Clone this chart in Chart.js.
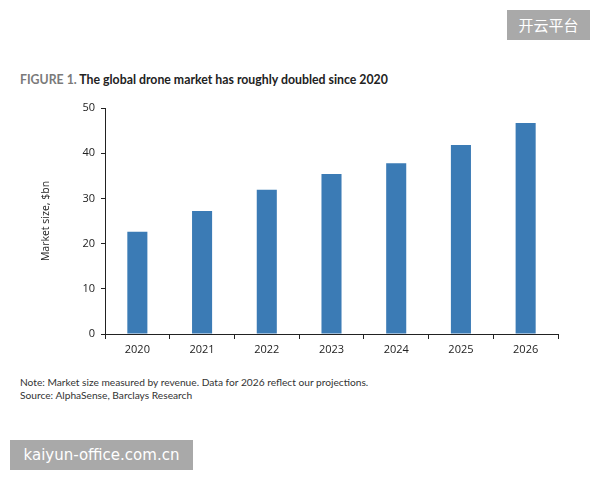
<!DOCTYPE html>
<html>
<head>
<meta charset="utf-8">
<script src="https://cdn.jsdelivr.net/npm/chart.js@4"></script>
<style>
    body { margin: 0; background: #fff; width: 600px; height: 480px; position: relative; overflow: hidden; font-family: "Lato", sans-serif; }
    .title { position: absolute; left: 20px; top: 72px; font-size: 12.3px; font-weight: bold; color: #222; }
    .title span { color: #7a7a7a; }
    .note { position: absolute; left: 20px; top: 376px; font-size: 10.2px; color: #333; line-height: 13px; }
    .chart-box { position: absolute; left: 20px; top: 95px; width: 560px; height: 270px; }
    .wm { position: absolute; background: #a9a9a9; color: #fff; font-family: "Noto Sans CJK SC", sans-serif; }
    .wm-top { left: 507px; top: 10px; width: 83px; height: 30px; font-size: 15px; line-height: 30px; text-align: center; }
    .wm-bottom { left: 10px; top: 440px; width: 183px; height: 30px; font-size: 15px; line-height: 30px; text-align: center; font-family: "DejaVu Sans", sans-serif; }
</style>
</head>
<body>
<div class="wm wm-top">开云平台</div>
<div class="title"><span>FIGURE 1.</span> The global drone market has roughly doubled since 2020</div>
<div class="chart-box"><canvas id="chart" width="560" height="270"></canvas></div>
<div class="note">Note: Market size measured by revenue. Data for 2026 reflect our projections.<br>Source: AlphaSense, Barclays Research</div>
<div class="wm wm-bottom">kaiyun-office.com.cn</div>

<script>
const years = ['2020', '2021', '2022', '2023', '2024', '2025', '2026'];
const marketSize = [22.6, 27.2, 31.9, 35.4, 37.8, 41.8, 46.7];
const yTicks = [0, 10, 20, 30, 40, 50];

const ctx = document.getElementById('chart').getContext('2d');

const chart = new Chart(ctx, {
    type: 'bar',
    data: {
        labels: years,
        datasets: [{
            data: marketSize,
            backgroundColor: '#3b7bb5',
            barPercentage: 0.31,
            categoryPercentage: 1
        }]
    },
    options: {
        responsive: false,
        animation: false,
        layout: { padding: { top: 13, right: 22, bottom: 0, left: 20 } },
        plugins: { legend: { display: false }, tooltip: { enabled: false } },
        scales: {
            x: {
                grid: { display: true, offset: true, drawOnChartArea: false, drawTicks: true, tickLength: 5, color: '#222' },
                border: { color: '#222', width: 1 },
                ticks: { color: '#222', font: { family: 'Open Sans', size: 11 }, padding: 4 },
                afterFit: scale => { scale.height = 31; }
            },
            y: {
                min: 0,
                max: 50,
                afterBuildTicks: scale => { scale.ticks = yTicks.map(v => ({ value: v })); },
                grid: { display: true, drawOnChartArea: false, drawTicks: true, tickLength: 4, color: '#222' },
                border: { color: '#222', width: 1 },
                ticks: { color: '#222', font: { family: 'Open Sans', size: 11 }, padding: 6 },
                title: { display: true, text: 'Market size, $bn', color: '#222', font: { family: 'Open Sans', size: 10.5 }, padding: { top: 0, bottom: 0 } },
                afterFit: scale => { scale.width = 65; }
            }
        }
    }
});
</script>
</body>
</html>
